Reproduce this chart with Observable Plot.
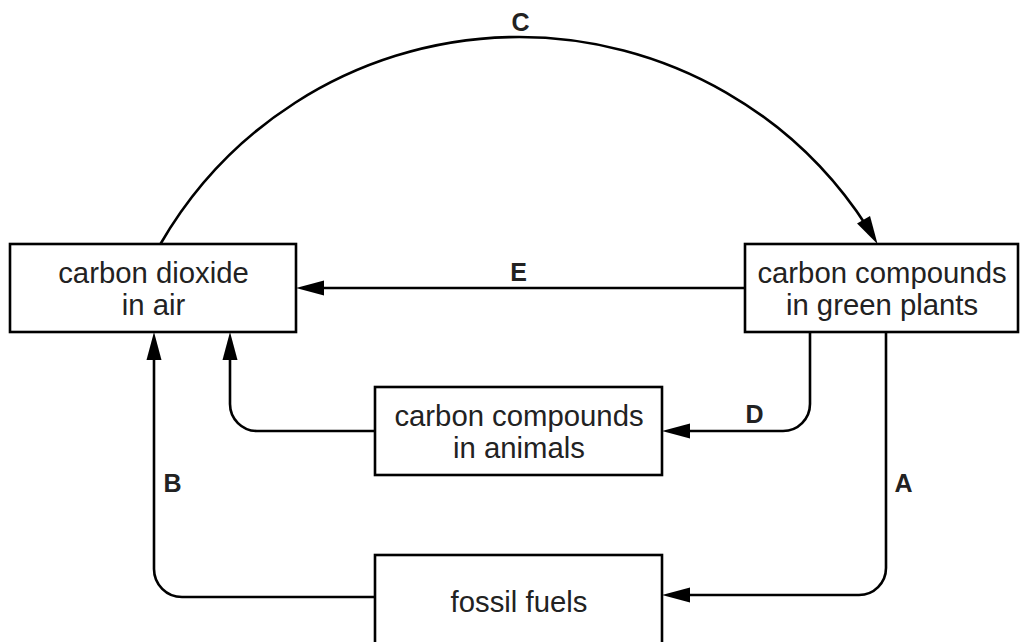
<!DOCTYPE html>
<html><head><meta charset="utf-8">
<script src="https://cdn.jsdelivr.net/npm/d3@7"></script>
<script src="https://cdn.jsdelivr.net/npm/@observablehq/plot@0.6"></script>
<style>body{margin:0;background:#fff} svg{display:block}</style>
</head><body><div id="chart"></div>
<script>
// Nodes of the carbon cycle diagram
const nodeNames = ["carbon dioxide\nin air", "carbon compounds\nin green plants", "carbon compounds\nin animals", "fossil fuels"];
// Flow labels
const flowNames = ["A", "B", "C", "D", "E"];

// Layout (diagram coordinates, in the x/y scale domains)
const nodeX1 = [10, 745, 375, 375];
const nodeX2 = [296, 1018, 662, 662];
const nodeY1 = [244, 244, 387, 555];
const nodeY2 = [332, 332, 475, 650];
const nodeTextY = [288, 288, 431, 601];

const flowLabelX = [903, 172, 520, 754, 518];
const flowLabelY = [483, 483, 22, 414, 272];

// connectors as polylines with rounded corners (last point = arrow tip)
const connectors = [
  {pts: [[886, 332], [886, 595], [662, 595]], r: 27},   // A
  {pts: [[375, 597], [154, 597], [154, 332]], r: 28},   // B
  {pts: [[810, 332], [810, 431], [662, 431]], r: 27},   // D
  {pts: [[745, 288], [296, 288]], r: 0},                // E
  {pts: [[375, 431], [230, 431], [230, 332]], r: 27}    // animals -> air
];
// arc C: centre, radius, start/end angle (degrees)
const arcC = {cx: 519, cy: 451, r: 414, a0: -150, a1: -30};

const nodes = nodeNames.map((name, i) => ({name, x1: nodeX1[i], x2: nodeX2[i], y1: nodeY1[i], y2: nodeY2[i], cx: (nodeX1[i] + nodeX2[i]) / 2, ty: nodeTextY[i]}));
const flows = flowNames.map((name, i) => ({name, x: flowLabelX[i], y: flowLabelY[i]}));

const SW = 2.6, AL = 28, AW = 7.5;

function connectorMark(index, scales) {
  const X = scales && scales.x ? scales.x : d => d;
  const Y = scales && scales.y ? scales.y : d => d;
  const g = d3.create("svg:g").attr("fill", "none").attr("stroke", "#000").attr("stroke-width", SW);
  const heads = [];
  for (const c of connectors) {
    const p = c.pts.map(([a, b]) => [X(a), Y(b)]);
    const n = p.length;
    const tip = p[n - 1], prev = p[n - 2];
    const dx = tip[0] - prev[0], dy = tip[1] - prev[1], L = Math.hypot(dx, dy);
    const ux = dx / L, uy = dy / L;
    const end = [tip[0] - ux * AL * 0.7, tip[1] - uy * AL * 0.7];
    const path = d3.path();
    path.moveTo(p[0][0], p[0][1]);
    for (let i = 1; i < n - 1; i++) path.arcTo(p[i][0], p[i][1], p[i + 1][0], p[i + 1][1], c.r);
    path.lineTo(end[0], end[1]);
    g.append("path").attr("d", path.toString());
    heads.push({tip, ux, uy});
  }
  // arc C
  const cx = X(arcC.cx), cy = Y(arcC.cy), r = Math.abs(Y(arcC.cy + arcC.r) - Y(arcC.cy));
  const a0 = arcC.a0 * Math.PI / 180, a1 = arcC.a1 * Math.PI / 180;
  const back = AL * 0.7 / r;
  const pa = d3.path();
  pa.arc(cx, cy, r, a0, a1 - back, false);
  g.append("path").attr("d", pa.toString());
  const tip = [cx + r * Math.cos(a1), cy + r * Math.sin(a1)];
  heads.push({tip, ux: -Math.sin(a1), uy: Math.cos(a1)});
  const hg = d3.create("svg:g").attr("fill", "#000").attr("stroke", "none");
  for (const h of heads) {
    const [tx, ty] = h.tip;
    const bx = tx - h.ux * AL, by = ty - h.uy * AL;
    const px = -h.uy, py = h.ux;
    hg.append("path").attr("d", `M${tx},${ty}L${bx + px * AW},${by + py * AW}L${bx - px * AW},${by - py * AW}Z`);
  }
  const outer = d3.create("svg:g");
  outer.append(() => g.node());
  outer.append(() => hg.node());
  return outer.node();
}

const chart = Plot.plot({
  width: 1024,
  height: 642,
  margin: 0,
  x: {domain: [0, 1024], range: [0, 1024], axis: null},
  y: {domain: [0, 642], range: [0, 642], axis: null},
  style: {fontFamily: "'Liberation Sans', Arial, Helvetica, sans-serif", background: "#fff"},
  marks: [
    connectorMark,
    Plot.rect(nodes, {x1: "x1", x2: "x2", y1: "y1", y2: "y2", fill: "#fff", stroke: "#000", strokeWidth: SW}),
    Plot.text(nodes, {x: "cx", y: "ty", text: "name", fontSize: 29.3, lineHeight: 1.12, fill: "#222", lineAnchor: "middle"}),
    Plot.text(flows, {x: "x", y: "y", text: "name", fontSize: 25, fontWeight: "bold", fill: "#222"})
  ]
});
document.getElementById("chart").append(chart);
</script>
</body></html>
